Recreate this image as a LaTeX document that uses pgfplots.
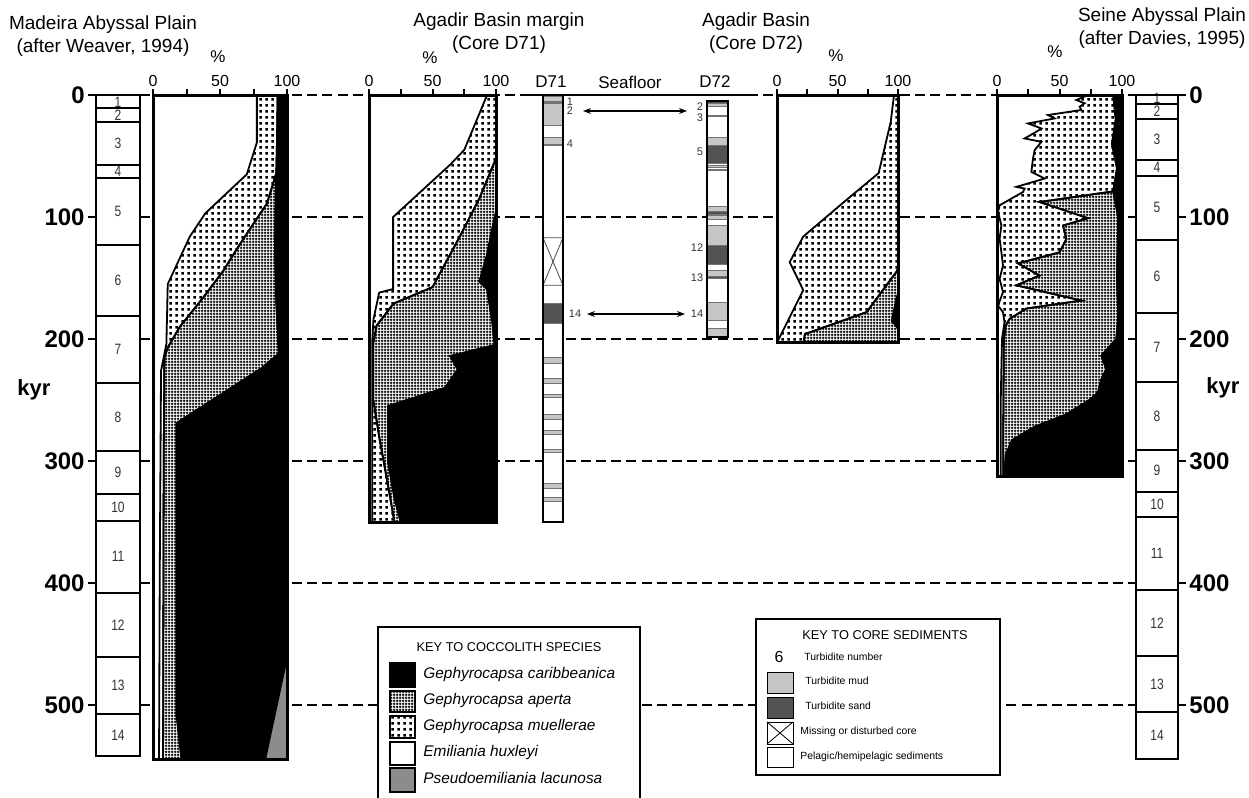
\documentclass[border=0pt]{standalone}
\usepackage{fontspec}
\setmainfont{Liberation Sans}
\usepackage{pgfplots}
\pgfplotsset{compat=1.18}
\usetikzlibrary{patterns,arrows.meta}

\pgfdeclarepatternformonly{finegrid}{\pgfqpoint{0pt}{0pt}}{\pgfqpoint{1.5pt}{1.5pt}}{\pgfqpoint{1.5pt}{1.5pt}}{%
  \pgfsetlinewidth{0.55pt}%
  \pgfpathmoveto{\pgfqpoint{0pt}{0.75pt}}\pgfpathlineto{\pgfqpoint{1.5pt}{0.75pt}}%
  \pgfpathmoveto{\pgfqpoint{0.75pt}{0pt}}\pgfpathlineto{\pgfqpoint{0.75pt}{1.5pt}}%
  \pgfusepath{stroke}}
\pgfdeclarepatternformonly{bigdots}{\pgfqpoint{0pt}{0pt}}{\pgfqpoint{3pt}{3pt}}{\pgfqpoint{3pt}{3pt}}{%
  \pgfpathrectangle{\pgfqpoint{0.8pt}{0.8pt}}{\pgfqpoint{1.4pt}{1.4pt}}%
  \pgfusepath{fill}}

\definecolor{lacgray}{HTML}{8C8C8C}
\definecolor{mudgray}{HTML}{C6C6C6}
\definecolor{sandgray}{HTML}{525252}

\pgfplotsset{
  panel/.style={scale only axis, axis on top, anchor=north west,
    xmin=0, xmax=100, ymin=0, y dir=reverse,
    axis line style={line width=1.5pt},
    xtick={0,25,50,75,100}, xticklabels={0,,50,,100},
    xtick pos=right, xticklabel pos=right, tick align=outside,
    major tick length=3pt, major tick style={line width=1pt,black},
    ytick=\empty,
    xticklabel style={font=\fontsize{8}{8}\selectfont, inner sep=1pt}},
  col/.style={scale only axis, axis on top, anchor=north west,
    xmin=0, xmax=1, ymin=0, y dir=reverse, clip=false,
    axis line style={line width=1pt}, xtick=\empty, ytick=\empty},
  kyrticks/.style={ytick={0,100,200,300,400,500}, yticklabels={0,100,200,300,400,500},
    tick align=outside, major tick length=4pt, major tick style={line width=1pt,black},
    yticklabel style={font=\bfseries\fontsize{12}{12}\selectfont, inner sep=1.5pt}},
  blk/.style={fill=black, draw=black, line width=0.9pt},
  grd/.style={preaction={fill=white}, pattern=finegrid, draw=black, line width=0.9pt},
  dts/.style={preaction={fill=white}, pattern=bigdots, draw=black, line width=0.9pt},
  wht/.style={fill=white, draw=black, line width=0.9pt},
}
\newcommand\sep[1]{\addplot[black, line width=1pt] coordinates {(0,#1)(1,#1)};}
\newcommand\band[3]{\addplot[fill=#3, draw=black!55, line width=0.3pt] coordinates {(0,#1)(1,#1)(1,#2)(0,#2)} --cycle;}
\newcommand\cnum[2]{\node[font=\fontsize{7.5}{7.5}\selectfont, text=black!80] at (axis cs:0.5,#1) {\scalebox{0.8}[1]{#2}};}

\begin{document}
\begin{tikzpicture}
\path[use as bounding box] (0,0) rectangle (624.5pt,-399pt);

% dashed reference lines
\foreach \yy in {47.5,108.5,169.5,230.5,291.5,352.5}
  \draw[line width=1pt, dash pattern=on 5pt off 2.6pt] (70pt,-\yy pt) -- (568pt,-\yy pt);

% titles
\begin{scope}[font=\fontsize{9.5}{9.5}\selectfont]
\node at (51.5pt,-12.5pt) {Madeira Abyssal Plain};
\node at (51.5pt,-24pt) {(after Weaver, 1994)};
\node at (249.5pt,-11pt) {Agadir Basin margin};
\node at (249.5pt,-22.5pt) {(Core D71)};
\node at (378pt,-11pt) {Agadir Basin};
\node at (378pt,-22.5pt) {(Core D72)};
\node at (581pt,-8.5pt) {Seine Abyssal Plain};
\node at (581pt,-20pt) {(after Davies, 1995)};
\end{scope}
\begin{scope}[font=\fontsize{8.5}{8.5}\selectfont]
\node at (109pt,-28.5pt) {\%};
\node at (215pt,-29pt) {\%};
\node at (418pt,-28pt) {\%};
\node at (527.5pt,-26pt) {\%};
\node at (275.5pt,-41pt) {D71};
\node at (315pt,-41pt) {Seafloor};
\node at (357.5pt,-41pt) {D72};
\end{scope}
\node[font=\bfseries\fontsize{11}{11}\selectfont] at (17pt,-195pt) {kyr};
\node[font=\bfseries\fontsize{11}{11}\selectfont] at (611.5pt,-194pt) {kyr};
\draw[line width=1pt] (261pt,-47.5pt) -- (376pt,-47.5pt);

% ---------------- Madeira column
\begin{axis}[col, kyrticks, ytick pos=left, at={(48pt,-47.5pt)}, width=22pt, height=330.62pt, ymax=542]
\addplot[fill=white, draw=none] coordinates {(0,0)(1,0)(1,542)(0,542)} --cycle;
\sep{11}\sep{22}\sep{57}\sep{68}\sep{123}\sep{181}\sep{236}\sep{292}\sep{327}\sep{349}\sep{408}\sep{461}\sep{507}
\cnum{6}{1}\cnum{17}{2}\cnum{39.5}{3}\cnum{62.5}{4}\cnum{95.5}{5}\cnum{152}{6}\cnum{208.5}{7}
\cnum{264}{8}\cnum{309.5}{9}\cnum{338}{10}\cnum{378.5}{11}\cnum{434.5}{12}\cnum{484}{13}\cnum{524.5}{14}
\end{axis}

% ---------------- Madeira panel
\begin{axis}[panel, at={(76.5pt,-47.5pt)}, width=67pt, height=332.45pt, ymax=545]
\addplot[fill=lacgray, draw=none] coordinates {(0,0)(100,0)(100,545)(0,545)} --cycle;
\addplot[blk] coordinates {(0,0)(100,0)(100,461)(83.6,545)(0,545)} --cycle;
\addplot[grd] coordinates {(0,0)(93,0)(92.5,40)(92,64)(91,122)(92,170)(94,212)(81,224)(17.6,269)(17.6,508)(21.4,545)(0,545)} --cycle;
\addplot[dts] coordinates {(0,0)(93,0)(92.5,40)(92,64)(85,89)(65,122)(52.5,144)(37.5,166)(20,190)(11,207)(8.5,215)(8,300)(7.5,545)(0,545)} --cycle;
\addplot[wht] coordinates {(0,0)(77.5,0)(77.5,39)(70,65)(39,97)(27.5,116)(11,155)(10,204)(6,226)(5,400)(4.5,545)(0,545)} --cycle;
\end{axis}

% ---------------- D71 panel
\begin{axis}[panel, at={(184.5pt,-47.5pt)}, width=63.5pt, height=213.5pt, ymax=350]
\addplot[blk] coordinates {(0,0)(100,0)(100,350)(0,350)} --cycle;
\addplot[grd] coordinates {(0,0)(100,0)(100,96)(97,110)(93,131)(87,153)(93,159)(97,185)(99,205)(64,214)(70,225)(60,240)(15,255)(15,300)(20,330)(25,350)(0,350)} --cycle;
\addplot[dts] coordinates {(0,0)(100,0)(100,52)(86.8,85)(72,115)(50,157.5)(19.3,171)(6,189)(3.4,203)(3.4,250)(8,280)(15,320)(20,350)(0,350)} --cycle;
\addplot[wht] coordinates {(0,0)(93,0)(75,45)(64,57)(19,100)(19,159)(8,162)(3.5,184)(2.5,203)(2.5,350)(0,350)} --cycle;
\end{axis}

% ---------------- D71 core
\begin{axis}[col, at={(271.5pt,-47.5pt)}, width=10pt, height=213.5pt, ymax=350]
\addplot[fill=white, draw=none] coordinates {(0,0)(1,0)(1,350)(0,350)} --cycle;
\band{1}{5}{mudgray}\band{5.2}{6.2}{sandgray}\band{7}{24.5}{mudgray}
\band{35}{40}{mudgray}\band{40}{41.5}{sandgray}
\band{170.5}{187}{sandgray}\band{215}{220}{mudgray}
\band{232}{236}{mudgray}\band{245}{248}{mudgray}\band{262}{266}{mudgray}
\band{275}{278}{mudgray}\band{290}{293}{mudgray}\band{318}{322}{mudgray}\band{330}{333}{mudgray}
\addplot[black!70, line width=0.4pt] coordinates {(0,117)(1,117)(1,156)(0,156)(0,117)(1,156)};
\addplot[black!70, line width=0.4pt] coordinates {(1,117)(0,156)};
\end{axis}

% ---------------- D72 core
\begin{axis}[col, at={(353.5pt,-50.55pt)}, width=10.5pt, height=117.73pt, ymin=5, ymax=198]
\addplot[fill=white, draw=none] coordinates {(0,5)(1,5)(1,198)(0,198)} --cycle;
\band{5}{6.5}{sandgray}\band{6.5}{9}{mudgray}\band{16.5}{17.5}{sandgray}
\band{35}{41.5}{mudgray}\band{41.5}{56}{sandgray}\band{57.5}{59}{mudgray}\band{61}{62}{mudgray}
\band{91}{95}{mudgray}\band{95.5}{97.5}{sandgray}\band{98.5}{102}{mudgray}
\band{107}{123}{mudgray}\band{123}{139}{sandgray}
\band{144}{148.5}{mudgray}\band{148.5}{150}{sandgray}
\band{170}{185}{mudgray}\band{191}{198}{mudgray}
\end{axis}

% core annotations
\begin{scope}[font=\fontsize{5.5}{5.5}\selectfont, text=black!80]
\node at (285pt,-51pt) {1};
\node at (285pt,-55.5pt) {2};
\node at (285pt,-72pt) {4};
\node at (287.5pt,-157pt) {14};
\node at (350pt,-53.5pt) {2};
\node at (350pt,-59pt) {3};
\node at (350pt,-76pt) {5};
\node at (348.5pt,-124pt) {12};
\node at (348.5pt,-139pt) {13};
\node at (348.5pt,-157pt) {14};
\end{scope}
\draw[{Stealth[length=4pt,width=3pt]}-{Stealth[length=4pt,width=3pt]}, line width=0.6pt] (291.5pt,-55.5pt) -- (343.5pt,-55.5pt);
\draw[{Stealth[length=4pt,width=3pt]}-{Stealth[length=4pt,width=3pt]}, line width=0.6pt] (293.5pt,-157pt) -- (342.5pt,-157pt);

% ---------------- D72 panel
\begin{axis}[panel, at={(388.5pt,-47.5pt)}, width=60.5pt, height=123.83pt, ymax=203]
\addplot[blk] coordinates {(0,0)(100,0)(100,203)(0,203)} --cycle;
\addplot[grd] coordinates {(0,0)(100,0)(100,163)(99,166)(95,185)(99,190)(100,192)(100,203)(0,203)} --cycle;
\addplot[dts] coordinates {(0,0)(100,0)(100,140)(99.4,144)(74,178)(23,196)(22,203)(0,203)} --cycle;
\addplot[wht] coordinates {(0,0)(96.7,0)(94,22)(84,64)(55,88)(21.7,116)(10.5,137)(21.7,160)(1,201)(1.4,203)(0,203)} --cycle;
\end{axis}

% ---------------- Seine panel
\begin{axis}[panel, at={(498.5pt,-47.5pt)}, width=62.5pt, height=190.93pt, ymax=313]
\addplot[blk] coordinates {(0,0)(100,0)(100,313)(0,313)} --cycle;
\addplot[grd] coordinates {(0,0)(93,0)(95,20)(92,40)(96,60)(93,79)(97,100)(96,150)(97,180)(95.5,200)(83.5,213.7)(87.5,224.7)(83.5,233)(80.8,243.8)(74,250)(55,262)(30,272)(12,283)(7,295)(6,313)(0,313)} --cycle;
\addplot[dts] coordinates {(0,0)(93,0)(95,20)(92,40)(96,60)(93,79)(34,87.7)(72.8,101)(52.8,107)(55.5,118)(50,129)(16.8,138)(34,148)(15.5,156)(67.5,168.5)(23.5,175)(10,183.6)(7,189)(5.5,200)(5,280)(5,313)(0,313)} --cycle;
\addplot[wht] coordinates {(0,0)(72.8,0)(63.5,4.1)(70.1,6.8)(66.1,9.6)(67.5,12.3)(40.8,16.4)(46.1,19.2)(24.8,23.3)(35.5,27.4)(31.5,30.1)(22.1,35.6)(35.5,38.4)(30.1,45.2)(28.8,52)(27.5,63)(38.1,68.5)(15.5,75.3)(22.1,76.7)(20.8,79.5)(2.1,90.4)(0.8,95.9)(3.5,106.8)(2.1,117.8)(3.5,128.8)(4.8,139.7)(2.1,150.7)(4.8,161.6)(0.8,172.6)(4.8,178)(6,186.3)(4,200)(3,250)(3,313)(0,313)} --cycle;
\end{axis}

% ---------------- Seine column
\begin{axis}[col, kyrticks, ytick pos=right, yticklabel pos=right, at={(568pt,-47.5pt)}, width=21pt, height=331.84pt, ymax=544]
\addplot[fill=white, draw=none] coordinates {(0,0)(1,0)(1,544)(0,544)} --cycle;
\sep{7}\sep{20}\sep{53}\sep{66}\sep{119}\sep{179}\sep{235}\sep{291}\sep{325}\sep{346}\sep{406}\sep{460}\sep{506}
\cnum{3}{1}\cnum{13}{2}\cnum{36.5}{3}\cnum{59.5}{4}\cnum{92.5}{5}\cnum{149}{6}\cnum{207}{7}
\cnum{263}{8}\cnum{308}{9}\cnum{335.5}{10}\cnum{376}{11}\cnum{433}{12}\cnum{483}{13}\cnum{525}{14}
\end{axis}

% ---------------- species key
\draw[line width=1pt, fill=white] (189pt,-313.5pt) rectangle (320pt,-405pt);
\node[font=\fontsize{6.4}{6.4}\selectfont] at (254.5pt,-323.5pt) {KEY TO COCCOLITH SPECIES};
\draw[line width=0.6pt, fill=black] (195pt,-331.5pt) rectangle (207.5pt,-343.5pt);
\draw[line width=0.6pt, preaction={fill=white}, pattern=finegrid] (195pt,-345.5pt) rectangle (207.5pt,-356pt);
\draw[line width=0.6pt, preaction={fill=white}, pattern=bigdots] (195pt,-358pt) rectangle (207.5pt,-369pt);
\draw[line width=0.6pt, fill=white] (195pt,-371pt) rectangle (207.5pt,-382.5pt);
\draw[line width=0.6pt, fill=lacgray] (195pt,-384pt) rectangle (207.5pt,-396pt);
\begin{scope}[font=\itshape\fontsize{7.7}{7.7}\selectfont]
\node[anchor=west, inner sep=0pt] at (211.5pt,-337.5pt) {Gephyrocapsa caribbeanica};
\node[anchor=west, inner sep=0pt] at (211.5pt,-350.5pt) {Gephyrocapsa aperta};
\node[anchor=west, inner sep=0pt] at (211.5pt,-363.5pt) {Gephyrocapsa muellerae};
\node[anchor=west, inner sep=0pt] at (211.5pt,-376.5pt) {Emiliania huxleyi};
\node[anchor=west, inner sep=0pt] at (211.5pt,-389pt) {Pseudoemiliania lacunosa};
\end{scope}

% ---------------- sediment key
\draw[line width=0.8pt, fill=white] (378pt,-309.5pt) rectangle (500pt,-387.5pt);
\node[font=\fontsize{6.4}{6.4}\selectfont] at (442.5pt,-317.5pt) {KEY TO CORE SEDIMENTS};
\node[font=\fontsize{8}{8}\selectfont] at (389.5pt,-328.5pt) {6};
\draw[line width=0.5pt, fill=mudgray] (383.5pt,-336pt) rectangle (396.5pt,-346.5pt);
\draw[line width=0.5pt, fill=sandgray] (383.5pt,-348.5pt) rectangle (396.5pt,-359pt);
\draw[line width=0.5pt, fill=white] (383.5pt,-361pt) rectangle (396.5pt,-372pt);
\draw[line width=0.4pt] (383.5pt,-361pt) -- (396.5pt,-372pt) (383.5pt,-372pt) -- (396.5pt,-361pt);
\draw[line width=0.5pt, fill=white] (383.5pt,-373.5pt) rectangle (396.5pt,-383.5pt);
\begin{scope}[font=\fontsize{5.2}{5.2}\selectfont]
\node[anchor=west, inner sep=0pt] at (402pt,-328.5pt) {Turbidite number};
\node[anchor=west, inner sep=0pt] at (402.5pt,-340.5pt) {Turbidite mud};
\node[anchor=west, inner sep=0pt] at (402.5pt,-353pt) {Turbidite sand};
\node[anchor=west, inner sep=0pt] at (400pt,-366pt) {Missing or disturbed core};
\node[anchor=west, inner sep=0pt] at (400pt,-378.5pt) {Pelagic/hemipelagic sediments};
\end{scope}
\end{tikzpicture}
\end{document}
